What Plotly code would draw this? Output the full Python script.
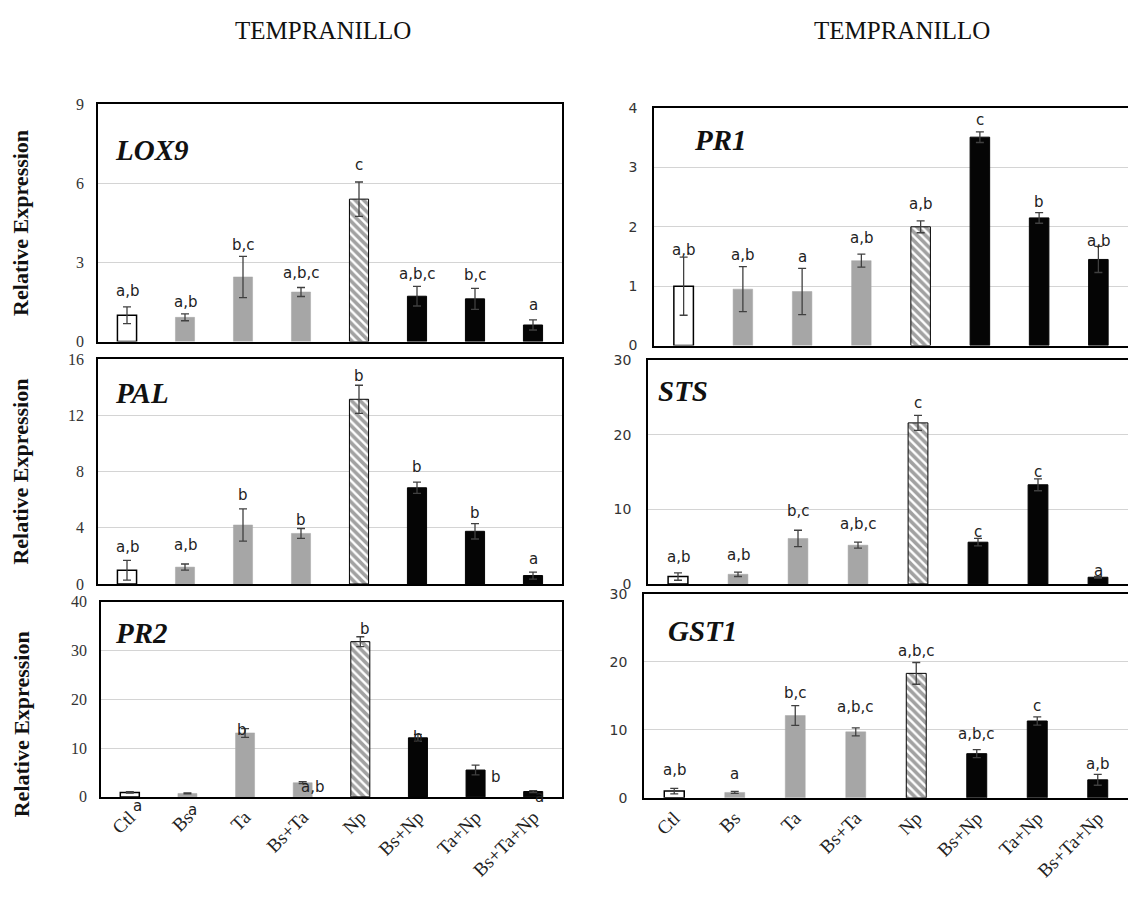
import plotly.graph_objects as go

W, H = 1128, 904

categories = ["Ctl", "Bs", "Ta", "Bs+Ta", "Np", "Bs+Np", "Ta+Np", "Bs+Ta+Np"]

lox9_mean = [1.0, 0.92, 2.45, 1.88, 5.4, 1.72, 1.62, 0.63]
lox9_err = [0.32, 0.13, 0.78, 0.17, 0.65, 0.37, 0.4, 0.19]
lox9_letters = ["a,b", "a,b", "b,c", "a,b,c", "c", "a,b,c", "b,c", "a"]

pal_mean = [0.98, 1.2, 4.2, 3.6, 13.15, 6.85, 3.75, 0.6]
pal_err = [0.7, 0.22, 1.15, 0.35, 1.0, 0.4, 0.55, 0.25]
pal_letters = ["a,b", "a,b", "b", "b", "b", "b", "b", "a"]

pr2_mean = [0.9, 0.7, 13.1, 2.9, 31.8, 12.1, 5.5, 1.1]
pr2_err = [0.15, 0.1, 0.9, 0.2, 1.0, 0.7, 1.0, 0.2]
pr2_letters = ["a", "a", "b", "a,b", "b", "b", "b", "a"]

pr1_mean = [1.0, 0.95, 0.91, 1.43, 2.0, 3.51, 2.15, 1.45]
pr1_err = [0.49, 0.38, 0.39, 0.11, 0.1, 0.09, 0.09, 0.22]
pr1_letters = ["a,b", "a,b", "a", "a,b", "a,b", "c", "b", "a,b"]

sts_mean = [1.0, 1.3, 6.1, 5.2, 21.6, 5.6, 13.3, 0.9]
sts_err = [0.5, 0.3, 1.1, 0.4, 1.0, 0.5, 0.8, 0.1]
sts_letters = ["a,b", "a,b", "b,c", "a,b,c", "c", "c", "c", "a"]

gst1_mean = [1.0, 0.8, 12.1, 9.7, 18.3, 6.5, 11.3, 2.65]
gst1_err = [0.4, 0.15, 1.45, 0.6, 1.6, 0.6, 0.6, 0.8]
gst1_letters = ["a,b", "a", "b,c", "a,b,c", "a,b,c", "a,b,c", "c", "a,b"]

column_title = "TEMPRANILLO"
y_title = "Relative Expression"

# ---- styling / layout (pixel geometry) ----
GRAY = "#a6a6a6"
BLACK = "#050505"
fills = ["white", GRAY, GRAY, GRAY, "white", BLACK, BLACK, BLACK]
lines = ["black", GRAY, GRAY, GRAY, "black", BLACK, BLACK, BLACK]
line_w = [1.5, 0.5, 0.5, 0.5, 1.0, 1, 1, 1]
shapes_pat = ["", "", "", "", "\\", "", "", ""]

panels = [
    dict(gene="LOX9", mean=lox9_mean, err=lox9_err, let=lox9_letters, ymax=9, dt=3,
         box=(98, 562, 98, 340), col="L", bottom=False, label=(113, 145),
         off=[(0, 16), (0, 12), (0, 11), (0, 15), (0, 17), (0, 12), (0, 13), (0, 15)]),
    dict(gene="PAL", mean=pal_mean, err=pal_err, let=pal_letters, ymax=16, dt=4,
         box=(98, 562, 358, 587), col="L", bottom=False, label=(113, 392),
         off=[(0, 13), (0, 19), (0, 14), (0, 8), (0, 9), (0, 15), (0, 11), (0, 13)]),
    dict(gene="PR2", mean=pr2_mean, err=pr2_err, let=pr2_letters, ymax=40, dt=10,
         box=(101, 562, 605, 804), col="L", bottom=True, label=(113, 637),
         off=[(8, -14), (5, -17), (-3, -1), (10, -5), (5, 8), (0, -3), (20, -12), (6, -6)]),
    dict(gene="PR1", mean=pr1_mean, err=pr1_err, let=pr1_letters, ymax=4, dt=1,
         box=(654, 1128, 102, 344), col="R", bottom=False, label=(692, 135),
         off=[(0, 7), (0, 12), (0, 11), (0, 16), (0, 17), (0, 12), (0, 11), (0, 5)]),
    dict(gene="STS", mean=sts_mean, err=sts_err, let=sts_letters, ymax=30, dt=10,
         box=(648, 1128, 359, 587), col="R", bottom=False, label=(656, 390),
         off=[(0, 16), (0, 17), (0, 19), (0, 18), (0, 12), (0, 6), (0, 7), (0, 6)]),
    dict(gene="GST1", mean=gst1_mean, err=gst1_err, let=gst1_letters, ymax=30, dt=10,
         box=(644, 1128, 597, 805), col="R", bottom=True, label=(666, 635),
         off=[(0, 18), (0, 17), (0, 13), (0, 21), (0, 11), (0, 16), (0, 11), (0, 10)]),
]

fig = go.Figure()
layout = dict(
    width=W, height=H, margin=dict(l=0, r=0, t=0, b=0),
    paper_bgcolor="white", plot_bgcolor="white", showlegend=False,
    bargap=0.67,
)
annotations = []

for i, p in enumerate(panels, start=1):
    xa = "xaxis" if i == 1 else f"xaxis{i}"
    ya = "yaxis" if i == 1 else f"yaxis{i}"
    xr = "x" if i == 1 else f"x{i}"
    yr = "y" if i == 1 else f"y{i}"
    l, r, t, b = p["box"]
    fig.add_trace(go.Bar(
        x=categories, y=p["mean"], xaxis=xr, yaxis=yr,
        marker=dict(color=fills, line=dict(color=lines, width=line_w),
                    pattern=dict(shape=shapes_pat, fgcolor="black", bgcolor="white",
                                 size=6, solidity=0.6)),
        error_y=dict(type="data", array=p["err"], color="#404040", thickness=1.3, width=4),
        hoverinfo="skip",
    ))
    left_col = p["col"] == "L"
    layout[xa] = dict(
        domain=[l / W, r / W], anchor=yr, type="category", range=[-0.5, 7.5],
        showline=True, linecolor="black", linewidth=1.5, mirror=True,
        showgrid=False, zeroline=False, ticks="",
        showticklabels=p["bottom"], tickangle=-45,
        tickfont=dict(family="Liberation Serif", size=19, color="#222"),
    )
    layout[ya] = dict(
        domain=[1 - b / H, 1 - t / H], anchor=xr, range=[0, p["ymax"]], dtick=p["dt"],
        tick0=0, showline=True, linecolor="black", linewidth=1.5, mirror=left_col,
        showgrid=True, gridcolor="#d4d4d4", gridwidth=1, zeroline=False,
        ticks="outside", ticklen=9 if left_col else 12, tickcolor="rgba(0,0,0,0)",
        tickfont=dict(family="Liberation Serif" if left_col else "DejaVu Sans",
                      size=16 if left_col else 14, color="#333"),
    )
    annotations.append(dict(
        x=p["label"][0] / W, y=1 - p["label"][1] / H, xref="paper", yref="paper",
        xanchor="left", yanchor="middle", showarrow=False,
        text=f"<b><i>{p['gene']}</i></b>",
        font=dict(family="Liberation Serif", size=29, color="#111"),
    ))
    for j, cat in enumerate(categories):
        dx, dy = p["off"][j]
        annotations.append(dict(
            x=cat, y=p["mean"][j] + p["err"][j], xref=xr, yref=yr,
            xanchor="center", yanchor="middle", xshift=dx, yshift=dy,
            showarrow=False, text=p["let"][j],
            font=dict(family="DejaVu Sans", size=15, color="#222"),
        ))
    if left_col:
        cy = (t + b) / 2 if not p["bottom"] else 730
        annotations.append(dict(
            x=21 / W, y=1 - cy / H, xref="paper", yref="paper",
            xanchor="center", yanchor="middle", showarrow=False, textangle=-90,
            text=f"<b>{y_title}</b>",
            font=dict(family="Liberation Serif", size=22, color="#111"),
        ))

for cx in (323, 902):
    annotations.append(dict(
        x=cx / W, y=1 - 23 / H, xref="paper", yref="paper",
        xanchor="center", yanchor="middle", showarrow=False, text=column_title,
        font=dict(family="Liberation Serif", size=25, color="#111"),
    ))

layout["annotations"] = annotations
fig.update_layout(**layout)
fig.write_html("out.html", config={"displayModeBar": False},
               post_script="document.body.style.margin='0px';")
